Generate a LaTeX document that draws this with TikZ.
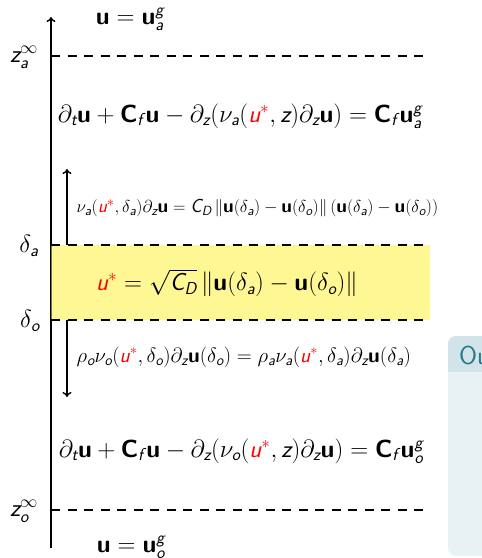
\documentclass[tikz,border=0pt]{standalone}
\usepackage{amsmath}
\usepackage{tikz}
\usetikzlibrary{arrows.meta}

% sans letters in math, as in a slide
\DeclareSymbolFont{sfletters}{TU}{lmss}{m}{sl}
\DeclareMathSymbol{a}{\mathalpha}{sfletters}{`a}
\DeclareMathSymbol{f}{\mathalpha}{sfletters}{`f}
\DeclareMathSymbol{g}{\mathalpha}{sfletters}{`g}
\DeclareMathSymbol{o}{\mathalpha}{sfletters}{`o}
\DeclareMathSymbol{t}{\mathalpha}{sfletters}{`t}
\DeclareMathSymbol{u}{\mathalpha}{sfletters}{`u}
\DeclareMathSymbol{z}{\mathalpha}{sfletters}{`z}
\DeclareMathSymbol{C}{\mathalpha}{sfletters}{`C}
\DeclareMathSymbol{D}{\mathalpha}{sfletters}{`D}
\DeclareMathAlphabet{\mathbf}{TU}{lmss}{bx}{n}

\definecolor{coupling}{RGB}{255,240,40}
\definecolor{blocktitle}{RGB}{210,228,233}
\definecolor{blockbody}{RGB}{232,241,244}
\definecolor{blocktext}{RGB}{40,120,140}

\newcommand{\ustar}{\textcolor{red}{u^*}}
\newcommand{\bu}{\mathbf{u}}
\newcommand{\Cf}{\mathbf{C}_f\mkern2mu}

\tikzset{
  >={To[length=5pt,width=9pt]},
  level/.style={line width=1.5pt, dash pattern=on 9pt off 7.5pt},
  flux/.style={->, line width=1.4pt},
  eqbig/.style={font=\fontsize{24.7}{30}\selectfont},
  eqsmall/.style={font=\fontsize{20.9}{24}\selectfont},
  lvlabel/.style={font=\fontsize{25}{28}\selectfont},
}

\begin{document}
\begin{tikzpicture}[x=1pt,y=-1pt]
  \useasboundingbox (0,0) rectangle (482,558);

  % block on the right, cut by the frame
  \begin{scope}
    \clip (0,0) rectangle (482,558);
    \fill[blockbody, rounded corners=8pt] (448,336) rectangle (540,556);
    \fill[blocktitle, rounded corners=8pt] (448,336) rectangle (540,390);
    \fill[blockbody] (448,372) rectangle (540,400);
    \node[anchor=west, text=blocktext, font=\fontsize{26}{30}\selectfont\sffamily, inner sep=0pt] (outtitle) at (459,355) {Ou};
  \end{scope}

  % axis and levels
  \coordinate (bot) at (51,548);
  \coordinate (top) at (51,17);
  \draw[->, line width=1.5pt] (bot) -- (top);

  \coordinate (za) at (51,56);
  \coordinate (da) at (51,245);
  \coordinate (do) at (51,320);
  \coordinate (zo) at (51,510);

  \draw[level] (za) -- ++(377,0);
  \draw[level] (zo) -- ++(377,0);

  % coupling layer
  \fill[coupling, fill opacity=0.5] (do) rectangle ++(379,-75);
  \draw[level] (da) -- ++(379,0);
  \draw[level] (do) -- ++(379,0);

  \node[lvlabel] (lza) at (24,57) {$z_a^{\infty}$};
  \node[lvlabel] (lda) at (29,246) {$\delta_a$};
  \node[lvlabel] (ldo) at (30,321) {$\delta_o$};
  \node[lvlabel] (lzo) at (24,511) {$z_o^{\infty}$};

  % fluxes at the interface
  \coordinate (fa) at (67,245);
  \coordinate (fo) at (67,320);
  \draw[flux] (fa) -- ++(0,-76);
  \draw[flux] (fo) -- ++(0,77);

  % equations
  \node[eqbig] (topbc) at (130,19) {$\bu = \bu_a^g$};
  \node[eqbig] (atmo) at (240,116) {$\partial_t \bu + \Cf \bu - \partial_z(\nu_a(\ustar, z)\partial_z \bu) = \Cf \bu_a^g$};
  \node[eqsmall, font=\fontsize{19}{22}\selectfont, anchor=west] (fluxa) at (73,208) {$\nu_a(\ustar, \delta_a)\partial_z \bu = C_D\, \|\bu(\delta_a) - \bu(\delta_o)\| \, (\bu(\delta_a) - \bu(\delta_o))$};
  \node[eqbig] (ustar) at (227,283) {$\ustar = \sqrt{C_D}\,\|\bu(\delta_a) - \bu(\delta_o)\|$};
  \node[eqsmall, anchor=west] (fluxo) at (73,357) {$\rho_o\nu_o(\ustar, \delta_o)\partial_z \bu(\delta_o) = \rho_a\nu_a(\ustar, \delta_a)\partial_z \bu(\delta_a)$};
  \node[eqbig] (ocean) at (241,451) {$\partial_t \bu + \Cf \bu - \partial_z(\nu_o(\ustar, z)\partial_z \bu) = \Cf \bu_o^g$};
  \node[eqbig] (botbc) at (131,547) {$\bu = \bu_o^g$};
\end{tikzpicture}
\end{document}
